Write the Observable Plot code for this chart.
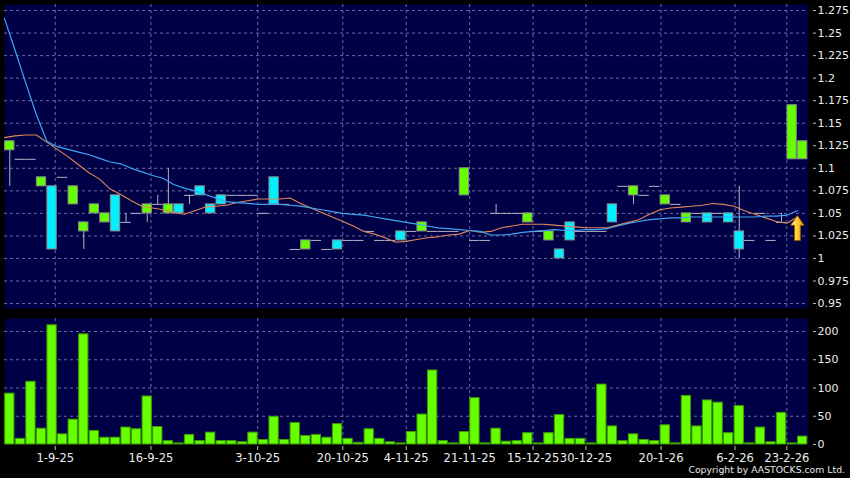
<!DOCTYPE html>
<html>
<head>
<meta charset="utf-8">
<script src="https://cdn.jsdelivr.net/npm/d3@7"></script>
<script src="https://cdn.jsdelivr.net/npm/@observablehq/plot@0.6"></script>
<style>
  html, body { margin: 0; padding: 0; background: #000; }
  #chart { position: relative; width: 850px; height: 478px; background: #000; overflow: hidden; }
  #chart svg { display: block; }
  #copy { position: absolute; right: 5px; top: 465px; color: #e8e8e8; font: 9.3px "DejaVu Sans", sans-serif; line-height: 1; white-space: nowrap; }
</style>
</head>
<body>
<div id="chart"><div id="copy">Copyright by AASTOCKS.com Ltd.</div></div>
<script>
// ---- data (76 trading sessions) ----
const openP  = [1.12,1.11,1.11,1.08,1.08,1.09,1.06,1.03,1.05,1.04,1.07,1.04,1.05,1.05,1.06,1.05,1.06,1.07,1.08,1.06,1.07,1.07,1.07,1.07,1.05,1.09,1.06,1.01,1.01,1.02,1.01,1.02,1.02,1.02,1.03,1.02,1.02,1.03,1.03,1.03,1.03,1.03,1.03,1.07,1.02,1.02,1.05,1.05,1.05,1.04,1.03,1.02,1.01,1.04,1.03,1.03,1.03,1.06,1.08,1.07,1.07,1.08,1.06,1.06,1.04,1.05,1.05,1.05,1.05,1.03,1.02,1.05,1.02,1.04,1.11,1.11];
const highP  = [1.13,1.11,1.11,1.09,1.08,1.09,1.08,1.04,1.06,1.05,1.07,1.05,1.05,1.06,1.07,1.10,1.06,1.07,1.08,1.06,1.07,1.07,1.07,1.07,1.05,1.09,1.06,1.01,1.02,1.02,1.01,1.02,1.02,1.02,1.03,1.02,1.02,1.03,1.03,1.04,1.03,1.03,1.03,1.10,1.02,1.02,1.06,1.05,1.05,1.05,1.03,1.03,1.01,1.04,1.03,1.03,1.03,1.06,1.08,1.08,1.07,1.08,1.07,1.06,1.05,1.05,1.05,1.05,1.05,1.08,1.02,1.05,1.02,1.05,1.17,1.13];
const lowP   = [1.08,1.11,1.11,1.08,1.01,1.09,1.06,1.01,1.05,1.04,1.03,1.04,1.05,1.04,1.06,1.05,1.05,1.06,1.07,1.05,1.06,1.07,1.07,1.07,1.05,1.06,1.06,1.01,1.01,1.02,1.01,1.01,1.02,1.02,1.03,1.02,1.02,1.02,1.03,1.03,1.03,1.03,1.03,1.07,1.02,1.02,1.05,1.05,1.05,1.04,1.03,1.02,1.00,1.02,1.03,1.03,1.03,1.04,1.08,1.06,1.07,1.08,1.06,1.06,1.04,1.05,1.04,1.05,1.04,1.00,1.02,1.05,1.02,1.04,1.11,1.11];
const closeP = [1.13,1.11,1.11,1.09,1.01,1.09,1.08,1.04,1.06,1.05,1.03,1.04,1.05,1.06,1.06,1.06,1.05,1.07,1.07,1.05,1.06,1.07,1.07,1.07,1.05,1.06,1.06,1.01,1.02,1.02,1.01,1.01,1.02,1.02,1.03,1.02,1.02,1.02,1.03,1.04,1.03,1.03,1.03,1.10,1.02,1.02,1.05,1.05,1.05,1.05,1.03,1.03,1.00,1.02,1.03,1.03,1.03,1.04,1.08,1.08,1.07,1.08,1.07,1.06,1.05,1.05,1.04,1.05,1.04,1.01,1.02,1.05,1.02,1.04,1.17,1.13];
const volume = [90,10,111,28,211,18,44,195,24,12,12,30,27,85,31,6,2,17,6,21,6,6,4,21,8,49,8,38,15,17,12,36,10,3,27,10,4,2,22,53,131,6,2,22,82,2,28,5,6,20,2,20,52,10,10,2,106,32,6,18,8,6,34,2,86,32,78,74,20,68,2,30,4,56,2,14];
// moving averages (drawn half a session to the left of each bar, as in the source chart)
const maBlue   = [1.266,1.231,1.195,1.16,1.13,1.124,1.121,1.118,1.115,1.111,1.107,1.105,1.1,1.096,1.092,1.089,1.082,1.078,1.075,1.071,1.067,1.063,1.062,1.061,1.06,1.06,1.06,1.059,1.058,1.056,1.054,1.052,1.05,1.049,1.048,1.046,1.044,1.042,1.04,1.038,1.036,1.034,1.033,1.032,1.031,1.03,1.026,1.026,1.027,1.029,1.03,1.031,1.032,1.031,1.031,1.032,1.032,1.033,1.036,1.039,1.041,1.043,1.044,1.045,1.045,1.046,1.046,1.046,1.046,1.046,1.046,1.046,1.047,1.047,1.048,1.053];
const maOrange = [1.134,1.136,1.137,1.137,1.129,1.121,1.113,1.104,1.095,1.088,1.077,1.071,1.064,1.058,1.056,1.054,1.051,1.049,1.053,1.057,1.058,1.059,1.062,1.064,1.066,1.066,1.066,1.067,1.061,1.056,1.051,1.046,1.041,1.036,1.03,1.027,1.023,1.018,1.019,1.021,1.023,1.024,1.026,1.027,1.031,1.029,1.03,1.034,1.036,1.038,1.038,1.038,1.037,1.036,1.035,1.034,1.034,1.034,1.037,1.04,1.043,1.049,1.054,1.056,1.057,1.058,1.059,1.061,1.06,1.058,1.053,1.049,1.045,1.041,1.039,1.046];
// x tick labels and where they fall along the session index
const xTickLabels = ["1-9-25","16-9-25","3-10-25","20-10-25","4-11-25","21-11-25","15-12-25","30-12-25","20-1-26","6-2-26","23-2-26"];
const xTickPos    = [4.3,13.35,23.45,31.5,37.5,43.5,49.5,54.5,61.6,68.6,73.5];
// y ticks
const priceTicks  = [0.95,0.975,1,1.025,1.05,1.075,1.1,1.125,1.15,1.175,1.2,1.225,1.25,1.275];
const volumeTicks = [0,50,100,150,200];
// buy-signal arrow
const signal = [{i: 74.5, price: 1.0337}];

// ---- build tables ----
const bars = openP.map((o, i) => ({i, open: o, high: highP[i], low: lowP[i], close: closeP[i]}));
const upBars = bars.filter(d => d.close > d.open);
const downBars = bars.filter(d => d.close < d.open);
const flatBars = bars.filter(d => d.close === d.open);
const vols = volume.map((v, i) => ({i, v}));
const maB = maBlue.map((v, i) => ({i: i - 0.5, v}));
const maO = maOrange.map((v, i) => ({i: i - 0.5, v}));
const labelMap = new Map(xTickPos.map((p, k) => [p, xTickLabels[k]]));

const PANEL = "#000046";
const GRID = "#6a6aa0";
const GREEN = "#66ff00";
const CYAN = "#00f0ff";
const WICK = "#b4b4c8";
const HW = 0.44;
const xDomain = [-0.5, 75.55];
const style = {background: "transparent", color: "#e8e8e8", fontFamily: "DejaVu Sans", fontSize: "11px"};
const fmtPrice = d => String(+d.toFixed(3));

const arrowSymbol = {
  draw(ctx, size) {
    const s = Math.sqrt(size / Math.PI);
    ctx.moveTo(0, -s);
    ctx.lineTo(0.54 * s, -0.22 * s);
    ctx.lineTo(0.24 * s, -0.22 * s);
    ctx.lineTo(0.24 * s, s);
    ctx.lineTo(-0.24 * s, s);
    ctx.lineTo(-0.24 * s, -0.22 * s);
    ctx.lineTo(-0.54 * s, -0.22 * s);
    ctx.closePath();
  }
};

const price = Plot.plot({
  width: 850, height: 313,
  marginLeft: 4, marginRight: 42, marginTop: 4, marginBottom: 5,
  x: {domain: xDomain, axis: null, label: null},
  y: {domain: [0.9445, 1.2817], axis: null, label: null},
  style,
  marks: [
    Plot.frame({fill: PANEL, stroke: "none"}),
    Plot.gridY(priceTicks, {stroke: GRID, strokeOpacity: 1, strokeDasharray: "3,3"}),
    Plot.gridX(xTickPos, {stroke: GRID, strokeOpacity: 1, strokeDasharray: "3,3"}),
    Plot.axisY(priceTicks, {anchor: "right", label: null, tickSize: 3, tickPadding: 2, dx: 4, tickFormat: fmtPrice, fill: "#ececec", stroke: "#bbb"}),
    Plot.ruleX(bars, {x: "i", y1: "low", y2: "high", stroke: WICK}),
    Plot.ruleY(flatBars, {y: "close", x1: d => d.i - HW - 0.05, x2: d => d.i + HW + 0.05, stroke: WICK}),
    Plot.rect(upBars, {x1: d => d.i - HW, x2: d => d.i + HW, y1: "open", y2: "close", fill: GREEN, stroke: "#8c8c8c"}),
    Plot.rect(downBars, {x1: d => d.i - HW, x2: d => d.i + HW, y1: "open", y2: "close", fill: CYAN, stroke: "#8c8c8c"}),
    Plot.line(maO, {x: "i", y: "v", stroke: "#e0865a", strokeWidth: 1.1}),
    Plot.line(maB, {x: "i", y: "v", stroke: "#3fa6f2", strokeWidth: 1.2}),
    Plot.dot(signal, {x: "i", y: "price", symbol: arrowSymbol, r: 12.5, fill: "url(#goldGrad)", stroke: "#8a5a00", strokeWidth: 1})
  ]
});

// gold gradient for the signal arrow
const ns = "http://www.w3.org/2000/svg";
const defs = document.createElementNS(ns, "defs");
const grad = document.createElementNS(ns, "linearGradient");
grad.setAttribute("id", "goldGrad");
grad.setAttribute("x1", "0"); grad.setAttribute("y1", "0");
grad.setAttribute("x2", "1"); grad.setAttribute("y2", "0");
[["0", "#fff3a0"], ["0.45", "#ffd23a"], ["1", "#e09a00"]].forEach(([o, c]) => {
  const st = document.createElementNS(ns, "stop");
  st.setAttribute("offset", o); st.setAttribute("stop-color", c);
  grad.appendChild(st);
});
defs.appendChild(grad);
price.insertBefore(defs, price.firstChild);

const vol = Plot.plot({
  width: 850, height: 165,
  marginLeft: 4, marginRight: 42, marginTop: 5, marginBottom: 34,
  x: {domain: xDomain, axis: null, label: null},
  y: {domain: [0, 223], axis: null, label: null},
  style,
  marks: [
    Plot.frame({fill: PANEL, stroke: "none"}),
    Plot.gridY([50, 100, 150, 200], {stroke: GRID, strokeOpacity: 1, strokeDasharray: "3,3"}),
    Plot.gridX(xTickPos, {stroke: GRID, strokeOpacity: 1, strokeDasharray: "3,3"}),
    Plot.axisY(volumeTicks, {anchor: "right", label: null, tickSize: 3, tickPadding: 2, dx: 4, fill: "#ececec", stroke: "#bbb"}),
    Plot.axisX(xTickPos, {anchor: "bottom", label: null, tickSize: 4, tickPadding: 3, dy: 2, fontSize: 11.5, tickFormat: d => labelMap.get(d), fill: "#ececec", stroke: "#bbb"}),
    Plot.rectY(vols, {x1: d => d.i - HW, x2: d => d.i + HW, y1: 0, y2: "v", fill: GREEN, stroke: "#3f9a00"})
  ]
});

const chart = document.getElementById("chart");
chart.insertBefore(vol, chart.firstChild);
chart.insertBefore(price, vol);
</script>
</body>
</html>
